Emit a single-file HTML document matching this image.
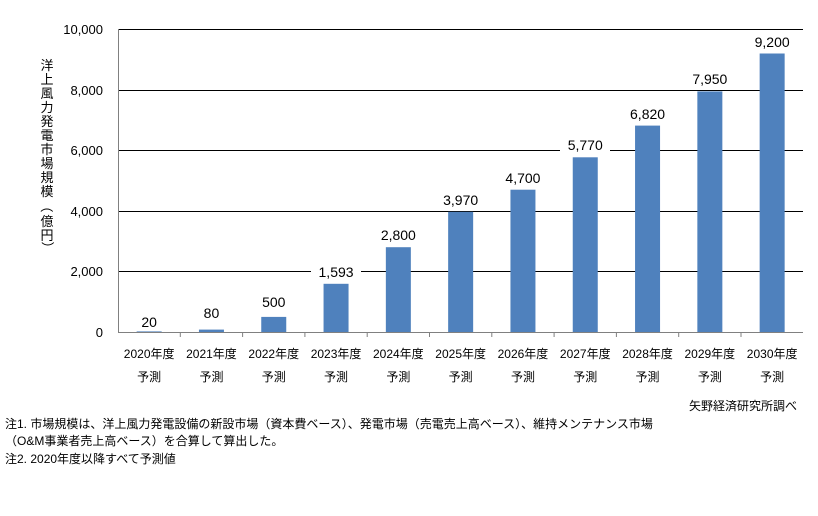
<!DOCTYPE html>
<html><head><meta charset="utf-8"><style>
body{margin:0;background:#fff;}
svg text{font-family:"Liberation Sans","Noto Sans CJK JP",sans-serif;fill:#000;}
</style></head><body>
<svg width="818" height="511" xmlns="http://www.w3.org/2000/svg">
<g stroke="#000" stroke-width="1">
<line x1="118" y1="29.5" x2="803" y2="29.5"/>
<line x1="118" y1="90.5" x2="803" y2="90.5"/>
<line x1="118" y1="150.5" x2="803" y2="150.5"/>
<line x1="118" y1="211.5" x2="803" y2="211.5"/>
<line x1="118" y1="271.5" x2="803" y2="271.5"/>
</g>
<g font-size="13" text-anchor="end">
<text x="103" y="34">10,000</text>
<text x="103" y="95">8,000</text>
<text x="103" y="155">6,000</text>
<text x="103" y="216">4,000</text>
<text x="103" y="276">2,000</text>
<text x="103" y="337">0</text>
</g>
<g font-size="13" text-anchor="middle">
<text x="47" y="70">洋</text><text x="47" y="84">上</text><text x="47" y="98">風</text><text x="47" y="112">力</text><text x="47" y="126">発</text><text x="47" y="140">電</text><text x="47" y="154">市</text><text x="47" y="168">場</text><text x="47" y="182">規</text><text x="47" y="196">模</text><text x="47" y="211" transform="rotate(90 47 206)">（</text><text x="47" y="226">億</text><text x="47" y="240">円</text><text x="47" y="252" transform="rotate(90 47 248)">）</text>
</g>
<g fill="#4f81bd">
<rect x="136.65" y="331.4" width="25" height="0.6"/>
<rect x="198.95" y="329.6" width="25" height="2.4"/>
<rect x="261.25" y="316.9" width="25" height="15.1"/>
<rect x="323.55" y="283.8" width="25" height="48.2"/>
<rect x="385.85" y="247.2" width="25" height="84.8"/>
<rect x="448.15" y="211.8" width="25" height="120.2"/>
<rect x="510.45" y="189.7" width="25" height="142.3"/>
<rect x="572.75" y="157.3" width="25" height="174.7"/>
<rect x="635.05" y="125.6" width="25" height="206.4"/>
<rect x="697.35" y="91.4" width="25" height="240.6"/>
<rect x="759.65" y="53.5" width="25" height="278.5"/>
</g>
<g fill="#fff">
<rect x="311" y="263" width="50" height="16"/>
<rect x="373" y="226" width="50" height="16"/>
<rect x="436" y="191" width="50" height="16"/>
<rect x="498" y="169" width="50" height="16"/>
<rect x="560" y="136" width="50" height="16"/>
<rect x="623" y="105" width="50" height="16"/>
<rect x="685" y="70" width="50" height="16"/>
<rect x="747" y="33" width="50" height="16"/>
</g>
<g font-size="14" text-anchor="middle">
<text x="149.15" y="327">20</text>
<text x="211.45" y="318">80</text>
<text x="273.75" y="307">500</text>
<text x="336.05" y="277">1,593</text>
<text x="398.35" y="240">2,800</text>
<text x="460.65" y="205">3,970</text>
<text x="522.95" y="183">4,700</text>
<text x="585.25" y="150">5,770</text>
<text x="647.55" y="119">6,820</text>
<text x="709.85" y="84">7,950</text>
<text x="772.15" y="47">9,200</text>
</g>
<g stroke="#808080">
<line x1="118.5" y1="29" x2="118.5" y2="332"/>
<line x1="118" y1="332.5" x2="803" y2="332.5"/>
<line x1="180.3" y1="332" x2="180.3" y2="337"/>
<line x1="242.6" y1="332" x2="242.6" y2="337"/>
<line x1="304.9" y1="332" x2="304.9" y2="337"/>
<line x1="367.2" y1="332" x2="367.2" y2="337"/>
<line x1="429.5" y1="332" x2="429.5" y2="337"/>
<line x1="491.8" y1="332" x2="491.8" y2="337"/>
<line x1="554.1" y1="332" x2="554.1" y2="337"/>
<line x1="616.4" y1="332" x2="616.4" y2="337"/>
<line x1="678.7" y1="332" x2="678.7" y2="337"/>
<line x1="741.0" y1="332" x2="741.0" y2="337"/>
</g>
<g font-size="12" text-anchor="middle">
<text x="149.15" y="358">2020年度</text><text x="149.15" y="381">予測</text>
<text x="211.45" y="358">2021年度</text><text x="211.45" y="381">予測</text>
<text x="273.75" y="358">2022年度</text><text x="273.75" y="381">予測</text>
<text x="336.05" y="358">2023年度</text><text x="336.05" y="381">予測</text>
<text x="398.35" y="358">2024年度</text><text x="398.35" y="381">予測</text>
<text x="460.65" y="358">2025年度</text><text x="460.65" y="381">予測</text>
<text x="522.95" y="358">2026年度</text><text x="522.95" y="381">予測</text>
<text x="585.25" y="358">2027年度</text><text x="585.25" y="381">予測</text>
<text x="647.55" y="358">2028年度</text><text x="647.55" y="381">予測</text>
<text x="709.85" y="358">2029年度</text><text x="709.85" y="381">予測</text>
<text x="772.15" y="358">2030年度</text><text x="772.15" y="381">予測</text>
</g>
<g font-size="12">
<text x="797" y="410" text-anchor="end">矢野経済研究所調べ</text>
<text x="5" y="428">注1.  市場規模は、洋上風力発電設備の新設市場（資本費ベース）、発電市場（売電売上高ベース）、維持メンテナンス市場</text>
<text x="5" y="445">（O&amp;M事業者売上高ベース）を合算して算出した。</text>
<text x="5" y="463">注2.  2020年度以降すべて予測値</text>
</g>
</svg>
</body></html>
